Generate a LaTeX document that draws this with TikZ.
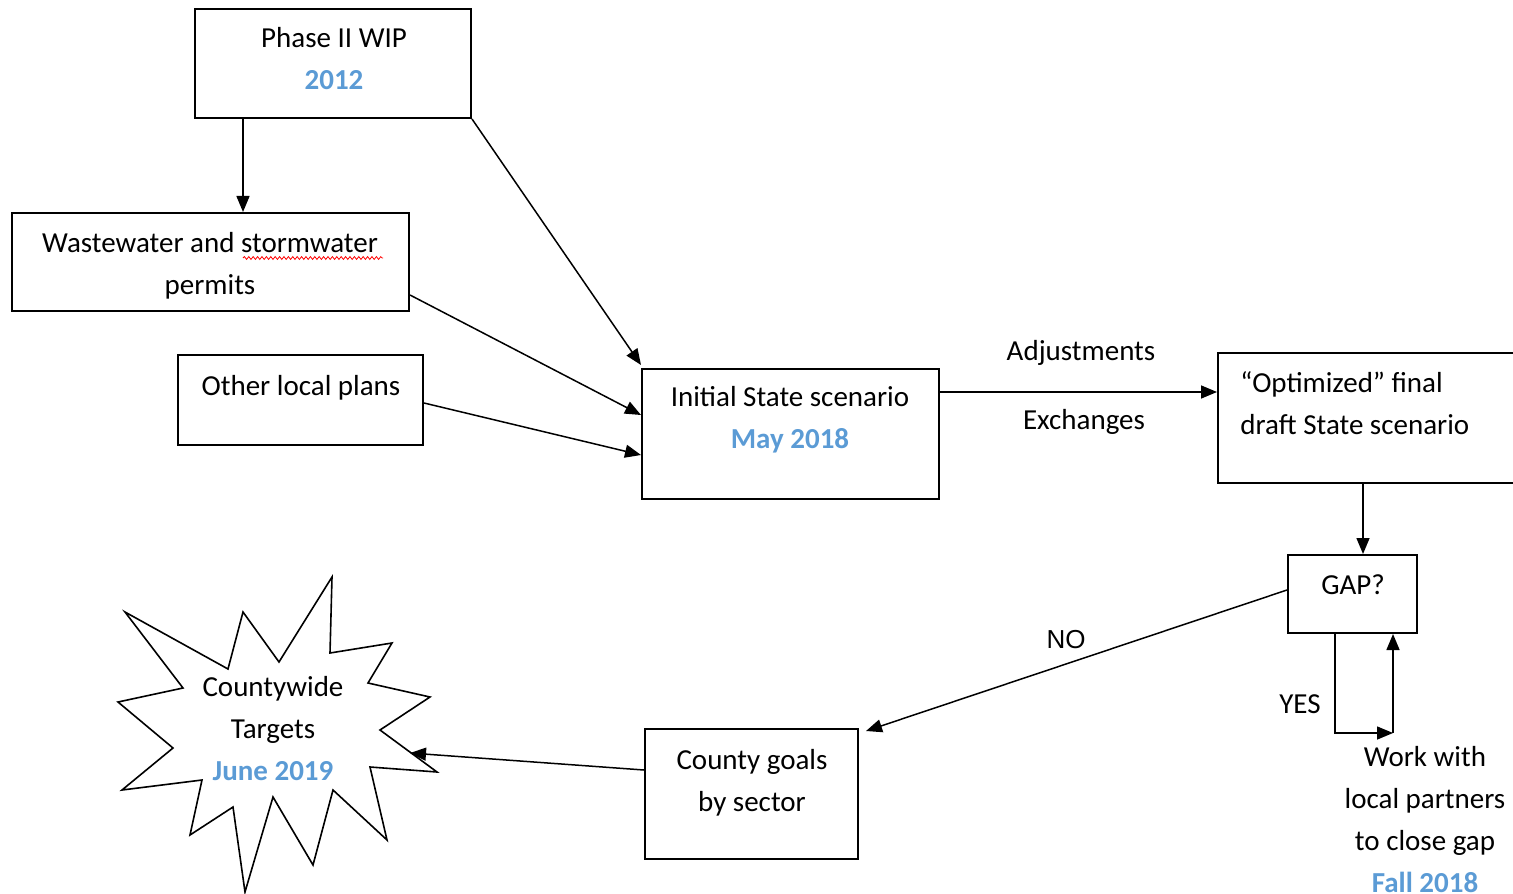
\documentclass[tikz,border=0pt]{standalone}
\usepackage{fontspec}
\setmainfont{Carlito}
\newfontfamily\arialfont{Liberation Sans}
\usetikzlibrary{arrows.meta,decorations.pathmorphing}
\definecolor{dateblue}{RGB}{91,155,213}
\newcommand{\when}[1]{\textcolor{dateblue}{\textbf{#1}}}
\begin{document}
\begin{tikzpicture}[x=0.5pt,y=-0.5pt,
    box/.style={draw, line width=1pt, inner sep=0pt},
    txt/.style={inner sep=0pt, align=center, anchor=base,
      font=\fontsize{14.5pt}{21pt}\selectfont},
    arr/.style={line width=0.75pt, -{Triangle[length=8pt,width=6.5pt]}}]
      \useasboundingbox (0,0) rectangle (1513,893);
      \node [box, minimum width=138pt, minimum height=54.5pt] (phase) at (333,63.5) {};
      \node [txt] (phase-t) at (334,90) {Phase II WIP\\\when{2012}};
      \node [box, minimum width=198.5pt, minimum height=49pt] (waste) at (210.5,262) {};
      \node [txt] (waste-t) at (210,294) {Wastewater and stormwater\\permits};
      \draw [red, line width=0.4pt, decorate,
        decoration={snake, amplitude=0.7pt, segment length=2.2pt}] (243,258) -- (383,258);
      \node [box, minimum width=122.5pt, minimum height=45pt] (other) at (300.5,400) {};
      \node [txt] (other-t) at (301,395) {Other local plans};
      \node [box, minimum width=148.5pt, minimum height=65pt] (init) at (790.5,434) {};
      \node [txt] (init-t) at (790,448) {Initial State scenario\\\when{May 2018}};
      \node [box, minimum width=153.5pt, minimum height=65pt] (optim) at (1371.5,418) {};
      \node [txt, anchor=base west, align=left] (optim-t) at (1240,434)
        {``Optimized'' final\\draft State scenario};
      \node [box, minimum width=64.5pt, minimum height=39pt] (gap) at (1352.5,594) {};
      \node [txt] (gap-t) at (1353,594) {GAP?};
      \node [box, minimum width=106.5pt, minimum height=65pt] (county) at (751.5,794) {};
      \node [txt] (county-t) at (752,811) {County goals\\by sector};
      \draw [line width=0.8pt] (125,612) -- (228,669) -- (243,612) -- (279,662)
        -- (332,577) -- (330,653) -- (392,643) -- (368,683) -- (430,697)
        -- (380,730) -- (437,772) -- (370,767) -- (387,840) -- (333,790)
        -- (313,865) -- (273,797) -- (245,892) -- (233,807) -- (190,835)
        -- (202,780) -- (122,790) -- (173,748) -- (118,702) -- (183,688) -- cycle;
      \coordinate (star-in) at (410,753);
      \node [txt] (star-t) at (273,780) {Countywide\\Targets\\\when{June 2019}};
      \node [txt] (adj) at (1081,360) {Adjustments};
      \node [txt] (exch) at (1084,429) {Exchanges};
      \node [txt, font=\arialfont\fontsize{13pt}{21pt}\selectfont] (no) at (1066,648) {NO};
      \node [txt] (yes) at (1300,713) {YES};
      \node [txt] (work) at (1425,892) {Work with\\local partners\\to close gap\\\when{Fall 2018}};
      \coordinate (turn) at (1393,733);
      \draw [arr] ([xshift=24.5pt]phase.south west) -- ([xshift=24.5pt]phase.south west |- waste.north);
      \draw [arr] (phase.south east) -- ([yshift=1.5pt]init.north west);
      \draw [arr] ([yshift=-16.5pt]waste.east) -- ([yshift=9.5pt]init.west);
      \draw [arr] ([yshift=-1.5pt]other.east) -- ([yshift=-10.5pt]init.west);
      \draw [arr] ([yshift=21pt]init.east) -- ([yshift=21pt]init.east -| optim.west);
      \draw [arr] ([xshift=5.25pt]gap.north |- optim.south) -- ([xshift=5.25pt]gap.north);
      \draw [arr] ([yshift=2pt]gap.west) -- ([shift={(3.5pt,-1.5pt)}]county.north east);
      \draw [arr] ([xshift=-8.75pt]gap.south) |- (turn);
      \draw [arr] (turn) -- (turn |- gap.south);
      \draw [arr] ([yshift=12pt]county.west) -- (star-in);
\end{tikzpicture}
\end{document}
